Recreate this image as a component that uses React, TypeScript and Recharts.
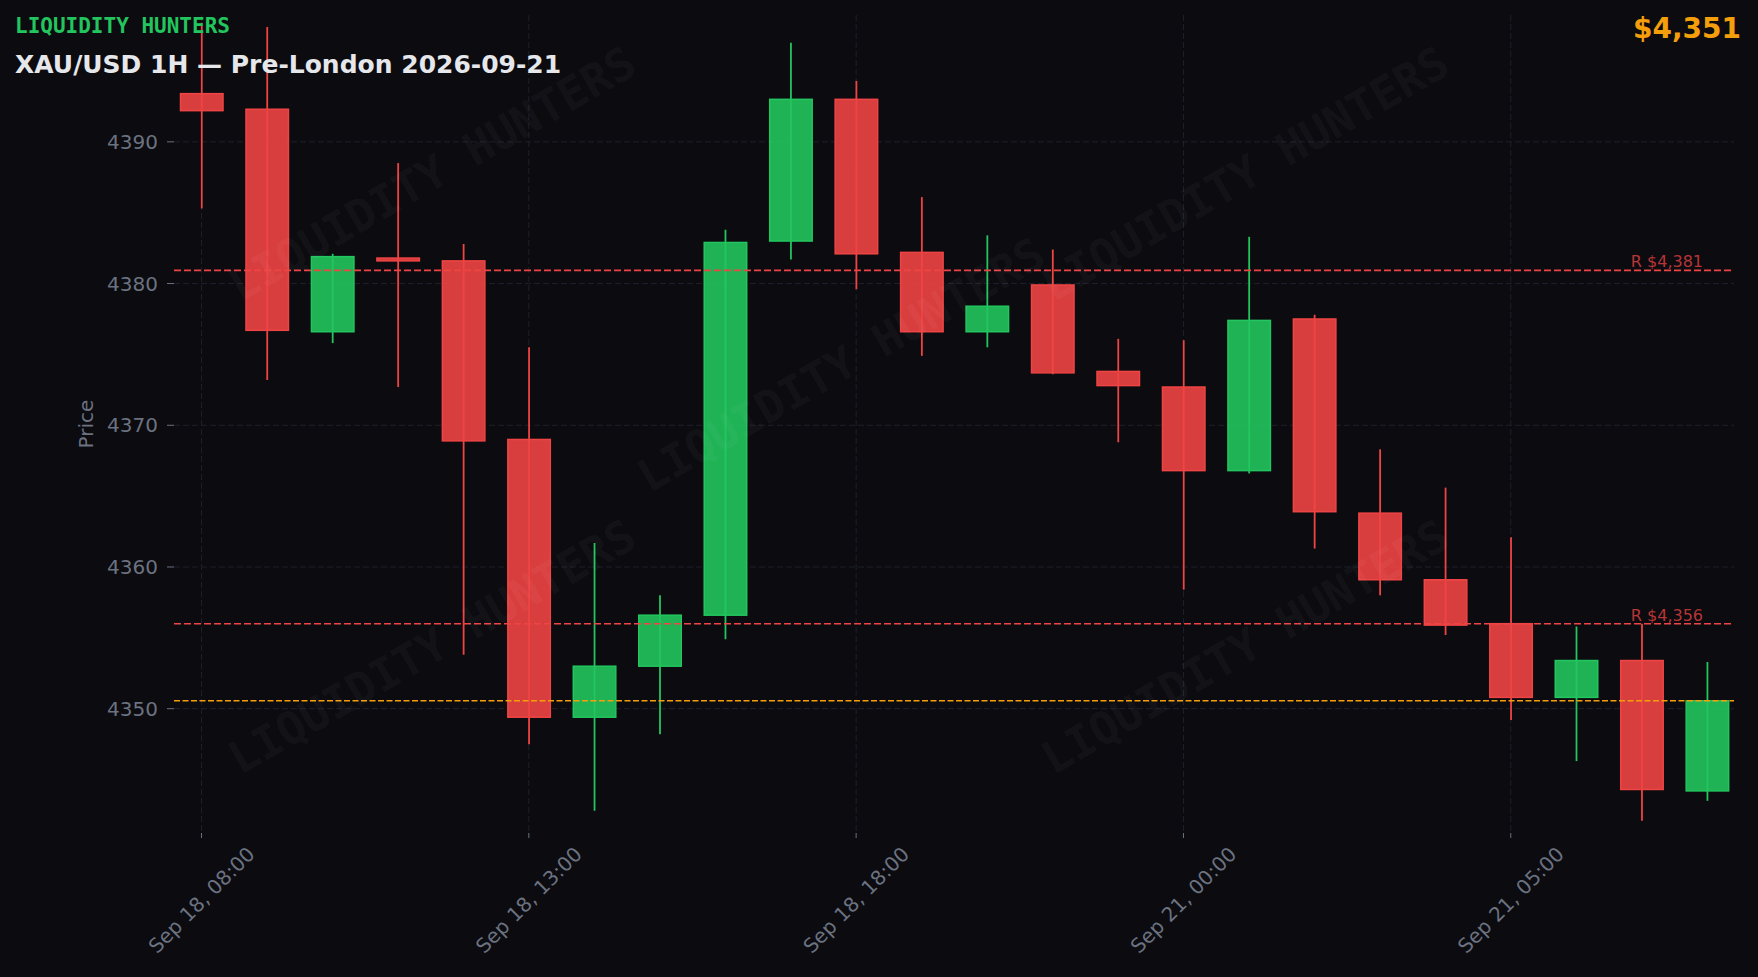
import { ComposedChart, Bar, XAxis, YAxis, CartesianGrid, ReferenceLine } from 'recharts';

// XAU/USD hourly candles, Sep 18 08:00 -> Sep 21 08:00 (weekend gap)
const times = [
  'Sep 18, 08:00', 'Sep 18, 09:00', 'Sep 18, 10:00', 'Sep 18, 11:00', 'Sep 18, 12:00',
  'Sep 18, 13:00', 'Sep 18, 14:00', 'Sep 18, 15:00', 'Sep 18, 16:00', 'Sep 18, 17:00',
  'Sep 18, 18:00', 'Sep 18, 19:00', 'Sep 18, 20:00', 'Sep 18, 21:00', 'Sep 18, 22:00',
  'Sep 21, 00:00', 'Sep 21, 01:00', 'Sep 21, 02:00', 'Sep 21, 03:00', 'Sep 21, 04:00',
  'Sep 21, 05:00', 'Sep 21, 06:00', 'Sep 21, 07:00', 'Sep 21, 08:00',
];
const opens = [
  4393.4, 4392.3, 4376.6, 4381.8, 4381.6, 4369.0, 4349.4, 4353.0, 4356.6, 4383.0, 4393.0, 4382.2,
  4376.6, 4379.9, 4373.8, 4372.7, 4366.8, 4377.5, 4363.8, 4359.1, 4356.0, 4350.8, 4353.4, 4344.2,
];
const highs = [
  4398.4, 4398.1, 4382.1, 4388.5, 4382.8, 4375.5, 4361.7, 4358.0, 4383.8, 4397.0, 4394.3, 4386.1,
  4383.4, 4382.4, 4376.1, 4376.0, 4383.3, 4377.8, 4368.3, 4365.6, 4362.1, 4355.8, 4356.0, 4353.3,
];
const lows = [
  4385.3, 4373.2, 4375.8, 4372.7, 4353.8, 4347.5, 4342.8, 4348.2, 4354.9, 4381.7, 4379.6, 4374.9,
  4375.5, 4373.6, 4368.8, 4358.4, 4366.6, 4361.3, 4358.0, 4355.2, 4349.2, 4346.3, 4342.1, 4343.5,
];
const closes = [
  4392.2, 4376.7, 4381.9, 4381.6, 4368.9, 4349.4, 4353.0, 4356.6, 4382.9, 4393.0, 4382.1, 4376.6,
  4378.4, 4373.7, 4372.8, 4366.8, 4377.4, 4363.9, 4359.1, 4355.9, 4350.8, 4353.4, 4344.3, 4350.56,
];
const resistances = [4380.93, 4356.0];
const priceTicks = [4350, 4360, 4370, 4380, 4390];
const timeTicks = [0, 5, 10, 15, 20];

const candles = times.map((time, i) => ({
  i,
  time,
  open: opens[i],
  high: highs[i],
  low: lows[i],
  close: closes[i],
}));
const lastClose = closes[closes.length - 1];

const BG = '#0b0b10';
const RED = '#ef4444';
const GREEN = '#22c55e';
const GOLD = '#f59e0b';
const GRAY = '#6b7280';
const GRID = '#1f2029';
const FONT = '"DejaVu Sans", sans-serif';
const MONO = '"DejaVu Sans Mono", monospace';

const W = 1758;
const H = 977;

const fmtUsd = (v: number) => '$' + Math.round(v).toLocaleString('en-US');

// body + wick drawn from the [low, high] range bar the library lays out
const Candle = (props: any) => {
  const { x, y, width, height, payload } = props;
  const { open, close, high, low } = payload;
  const color = close >= open ? GREEN : RED;
  const yTop = Math.min(y, y + height);
  const span = Math.abs(height);
  const px = (v: number) => yTop + ((high - v) / (high - low)) * span;
  const cx = x + width / 2;
  const bodyTop = px(Math.max(open, close));
  const bodyBot = px(Math.min(open, close));
  return (
    <g>
      <line x1={cx} x2={cx} y1={yTop} y2={yTop + span} stroke={color} strokeWidth={1.8} />
      <rect
        x={x + 0.75}
        y={bodyTop}
        width={width - 1.5}
        height={Math.max(bodyBot - bodyTop, 1.5)}
        fill={color}
        fillOpacity={0.9}
        stroke={color}
        strokeWidth={1.5}
      />
    </g>
  );
};

const TimeTick = ({ x, y, payload }: any) => (
  <g transform={`translate(${x},${y + 60}) rotate(-45)`}>
    <text
      textAnchor="middle"
      dominantBaseline="central"
      fill={GRAY}
      fontSize={20}
      fontFamily={FONT}
    >
      {times[payload.value]}
    </text>
  </g>
);

const watermarkSpots = [
  [432, 174],
  [1245, 174],
  [841, 365],
  [432, 647],
  [1245, 647],
];

export default function App() {
  return (
    <div style={{ position: 'relative', width: W, height: H, background: BG }}>
      <style>{`body{margin:0;background:${BG};}`}</style>
      <ComposedChart
        width={W}
        height={H}
        data={candles}
        margin={{ top: 15, right: 24, bottom: 0, left: 0 }}
      >
        <CartesianGrid
          stroke={GRID}
          strokeDasharray="6 3"
          strokeWidth={1}
          syncWithTicks
          horizontalValues={priceTicks}
          verticalValues={timeTicks}
        />
        <XAxis
          dataKey="i"
          type="number"
          domain={[-0.42, 23.41]}
          ticks={timeTicks}
          allowDataOverflow
          height={144}
          axisLine={false}
          tickLine={{ stroke: GRAY }}
          tickSize={5}
          tick={<TimeTick />}
          interval={0}
        />
        <YAxis
          type="number"
          domain={[4341.23, 4398.95]}
          ticks={priceTicks}
          allowDataOverflow
          width={174}
          axisLine={false}
          tickLine={{ stroke: GRAY }}
          tickSize={7}
          tickMargin={9}
          tick={{ fill: GRAY, fontSize: 20, fontFamily: FONT }}
          label={({ viewBox }: any) => (
            <text
              x={viewBox.x + 86}
              y={424}
              transform={`rotate(-90, ${viewBox.x + 86}, 424)`}
              textAnchor="middle"
              dominantBaseline="central"
              fill={GRAY}
              fontSize={20}
              fontFamily={FONT}
            >
              Price
            </text>
          )}
        />
        <Bar
          dataKey={(d: any) => [d.low, d.high]}
          barSize={44}
          shape={<Candle />}
          isAnimationActive={false}
        />
        {resistances.map((level) => (
          <ReferenceLine
            key={level}
            y={level}
            stroke={RED}
            strokeWidth={1.6}
            strokeDasharray="7 3"
            label={({ viewBox }: any) => (
              <text
                x={viewBox.x + viewBox.width - 31}
                y={viewBox.y - 3}
                textAnchor="end"
                fill={RED}
                fillOpacity={0.75}
                fontSize={16}
                fontFamily={FONT}
              >
                {'R ' + fmtUsd(level)}
              </text>
            )}
          />
        ))}
        <ReferenceLine y={lastClose} stroke={GOLD} strokeWidth={1.6} strokeDasharray="6 2.5" />
      </ComposedChart>

      <svg
        width={W}
        height={H}
        style={{ position: 'absolute', left: 0, top: 0, pointerEvents: 'none' }}
      >
        <defs>
          <clipPath id="plot-clip">
            <rect x={174} y={15} width={1560} height={818} />
          </clipPath>
        </defs>
        <g clipPath="url(#plot-clip)">
          {watermarkSpots.map(([cx, cy], k) => (
            <text
              key={k}
              x={cx}
              y={cy}
              transform={`rotate(-30, ${cx}, ${cy})`}
              textAnchor="middle"
              dominantBaseline="central"
              fill="#ffffff"
              fillOpacity={0.05}
              fontSize={45}
              fontWeight="bold"
              fontFamily={MONO}
            >
              LIQUIDITY HUNTERS
            </text>
          ))}
        </g>
        <text x={15} y={33} fill={GREEN} fontSize={21} fontWeight="bold" fontFamily={MONO}>
          LIQUIDITY HUNTERS
        </text>
        <text x={15} y={73} fill="#e5e7eb" fontSize={25} fontWeight="bold" fontFamily={FONT}>
          XAU/USD 1H — Pre-London 2026-09-21
        </text>
        <text
          x={1741}
          y={38}
          textAnchor="end"
          fill={GOLD}
          fontSize={28}
          fontWeight="bold"
          fontFamily={FONT}
        >
          {fmtUsd(lastClose)}
        </text>
      </svg>
    </div>
  );
}
